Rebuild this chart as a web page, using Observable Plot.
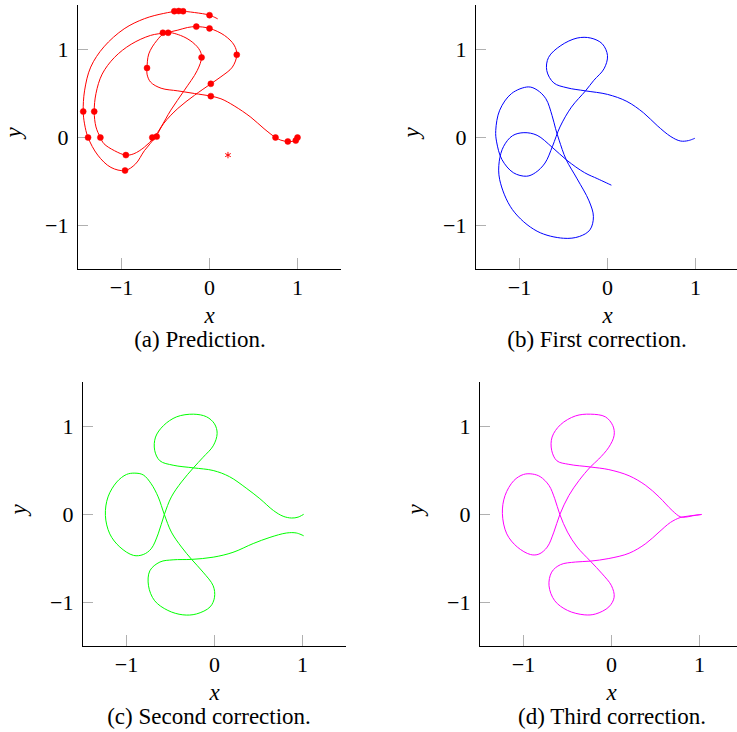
<!DOCTYPE html>
<html>
<head>
<meta charset="utf-8">
<script src="https://cdn.jsdelivr.net/npm/d3@7"></script>
<script src="https://cdn.jsdelivr.net/npm/@observablehq/plot@0.6"></script>
<style>
  html, body { margin: 0; padding: 0; background: #fff; overflow: hidden; }
  body { width: 737px; height: 732px; position: relative; }
  .panel { position: absolute; width: 360px; }
  .panel svg { max-width: none !important; }
  .cap { position: absolute; font-size: 23px; line-height: 23px; white-space: nowrap; transform: translateX(-50%); color: #000; }
</style>
</head>
<body>
<script>
// Shared axis settings
const xDomain = [-1.5, 1.5];
const yDomain = [-1.5, 1.5];
const xTicks = [-1, 0, 1];
const yTicks = [-1, 0, 1];
const xTickLabels = ["\u22121", "0", "1"];
const yTickLabels = ["\u22121", "0", "1"];

// (a) Prediction: trajectory [x, y]
const predictionPath = [
  [1.00, 0.00], [0.98, -0.035], [0.89, -0.045], [0.81, -0.03], [0.75, 0.00],
  [0.62, 0.10], [0.47, 0.23], [0.28, 0.36], [0.13, 0.44], [0.015, 0.47],
  [-0.17, 0.50], [-0.36, 0.53], [-0.55, 0.56], [-0.67, 0.63], [-0.71, 0.72],
  [-0.71, 0.79], [-0.69, 0.95], [-0.60, 1.10], [-0.50, 1.19], [-0.33, 1.16],
  [-0.19, 1.08], [-0.11, 0.99], [-0.09, 0.91], [-0.14, 0.76], [-0.29, 0.53],
  [-0.44, 0.31], [-0.55, 0.12], [-0.63, 0.00], [-0.74, -0.11], [-0.86, -0.185],
  [-0.95, -0.20], [-1.08, -0.15], [-1.20, -0.07], [-1.24, 0.00], [-1.29, 0.12],
  [-1.31, 0.295], [-1.29, 0.50], [-1.22, 0.72], [-1.08, 0.91], [-0.89, 1.06],
  [-0.67, 1.16], [-0.50, 1.19], [-0.36, 1.22], [-0.25, 1.25], [-0.15, 1.26],
  [0.00, 1.24], [0.17, 1.16], [0.28, 1.05], [0.31, 0.94], [0.26, 0.80],
  [0.13, 0.69], [0.015, 0.61], [-0.17, 0.48], [-0.36, 0.33], [-0.52, 0.16],
  [-0.61, 0.01], [-0.74, -0.15], [-0.84, -0.30], [-0.96, -0.375], [-1.12, -0.34],
  [-1.27, -0.20], [-1.38, 0.00], [-1.42, 0.155], [-1.435, 0.295], [-1.42, 0.53],
  [-1.35, 0.80], [-1.20, 1.03], [-0.97, 1.235], [-0.74, 1.35], [-0.52, 1.41],
  [-0.35, 1.435], [-0.17, 1.42], [0.00, 1.39], [0.09, 1.35]
];
// (a) solver step markers
const predictionSteps = [
  [1.00, 0.00], [0.98, -0.035], [0.89, -0.045], [0.75, 0.00], [0.015, 0.47],
  [-0.71, 0.79], [-0.53, 1.19], [-0.47, 1.19], [-0.09, 0.91], [-0.65, 0.00],
  [-0.60, 0.01], [-0.95, -0.20], [-0.96, -0.375], [-1.24, 0.00], [-1.38, 0.00],
  [-1.31, 0.295], [-1.435, 0.295], [-0.15, 1.26], [0.00, 1.24], [0.31, 0.94],
  [0.015, 0.61], [-0.40, 1.435], [-0.35, 1.437], [-0.30, 1.435], [0.00, 1.39]
];
const predictionStar = [[0.21, -0.20]];

// (b) First correction
const firstCorrection = [
  [0.99, -0.01], [0.92, -0.035], [0.83, -0.04], [0.72, 0.01], [0.565, 0.135],
  [0.41, 0.28], [0.22, 0.41], [0.00, 0.49], [-0.25, 0.53], [-0.46, 0.565],
  [-0.61, 0.62], [-0.69, 0.76], [-0.67, 0.91], [-0.53, 1.045], [-0.345, 1.13],
  [-0.19, 1.13], [-0.06, 1.065], [0.00, 0.93], [-0.04, 0.78], [-0.155, 0.65],
  [-0.25, 0.53], [-0.41, 0.345], [-0.54, 0.12], [-0.625, -0.10], [-0.71, -0.29],
  [-0.82, -0.40], [-0.92, -0.44], [-1.07, -0.40], [-1.20, -0.25], [-1.26, -0.05],
  [-1.27, 0.08], [-1.225, 0.31], [-1.09, 0.50], [-0.90, 0.575], [-0.80, 0.54],
  [-0.70, 0.44], [-0.63, 0.25], [-0.59, 0.10], [-0.55, -0.03], [-0.47, -0.25],
  [-0.345, -0.47], [-0.21, -0.72], [-0.16, -0.90], [-0.20, -1.05], [-0.32, -1.125],
  [-0.50, -1.145], [-0.80, -1.065], [-1.08, -0.82], [-1.225, -0.48], [-1.23, -0.27],
  [-1.18, -0.10], [-1.08, 0.02], [-0.95, 0.055], [-0.80, 0.025], [-0.63, -0.11],
  [-0.46, -0.26], [-0.26, -0.40], [-0.11, -0.47], [0.04, -0.54]
];

// (c) Second correction
const secondCorrection = [
  [1.01, 0.00], [0.95, -0.03], [0.875, -0.04], [0.78, -0.02], [0.67, 0.045],
  [0.515, 0.18], [0.36, 0.30], [0.17, 0.43], [-0.015, 0.50], [-0.24, 0.53],
  [-0.47, 0.56], [-0.62, 0.61], [-0.68, 0.73], [-0.67, 0.88], [-0.58, 1.01],
  [-0.43, 1.11], [-0.24, 1.14], [-0.09, 1.11], [0.00, 1.03], [0.03, 0.92],
  [-0.015, 0.78], [-0.13, 0.65], [-0.24, 0.53], [-0.375, 0.37], [-0.49, 0.20],
  [-0.57, 0.00], [-0.64, -0.22], [-0.72, -0.39], [-0.81, -0.455], [-0.92, -0.465],
  [-1.075, -0.37], [-1.19, -0.22], [-1.24, -0.01], [-1.21, 0.20], [-1.11, 0.37],
  [-1.00, 0.455], [-0.905, 0.47], [-0.81, 0.45], [-0.72, 0.35], [-0.64, 0.20],
  [-0.57, 0.00], [-0.49, -0.20], [-0.375, -0.37], [-0.26, -0.51], [-0.13, -0.655],
  [-0.015, -0.81], [0.00, -0.94], [-0.05, -1.05], [-0.205, -1.13], [-0.36, -1.14],
  [-0.53, -1.09], [-0.68, -0.98], [-0.75, -0.81], [-0.735, -0.64], [-0.62, -0.54],
  [-0.47, -0.515], [-0.26, -0.51], [-0.015, -0.485], [0.21, -0.43], [0.44, -0.33],
  [0.63, -0.26], [0.82, -0.21], [0.93, -0.21], [1.01, -0.24]
];

// (d) Third correction
const thirdCorrection = [
  [1.02, 0.00], [0.92, -0.015], [0.84, -0.03], [0.78, -0.025], [0.69, 0.045],
  [0.54, 0.20], [0.39, 0.33], [0.20, 0.44], [-0.03, 0.51], [-0.24, 0.54],
  [-0.485, 0.57], [-0.62, 0.61], [-0.68, 0.73], [-0.675, 0.88], [-0.58, 1.02],
  [-0.41, 1.12], [-0.24, 1.14], [-0.07, 1.11], [0.015, 1.01], [0.03, 0.90],
  [-0.03, 0.765], [-0.145, 0.63], [-0.24, 0.54], [-0.37, 0.385], [-0.485, 0.215],
  [-0.587, 0.00], [-0.655, -0.20], [-0.73, -0.37], [-0.825, -0.45], [-0.92, -0.455],
  [-1.07, -0.37], [-1.19, -0.22], [-1.24, 0.01], [-1.21, 0.215], [-1.11, 0.385],
  [-1.00, 0.455], [-0.90, 0.46], [-0.81, 0.43], [-0.71, 0.33], [-0.645, 0.18],
  [-0.587, 0.00], [-0.50, -0.20], [-0.39, -0.37], [-0.24, -0.53], [-0.105, -0.675],
  [0.00, -0.81], [0.03, -0.94], [-0.03, -1.05], [-0.18, -1.13], [-0.31, -1.14],
  [-0.50, -1.09], [-0.645, -0.98], [-0.71, -0.81], [-0.68, -0.655], [-0.58, -0.57],
  [-0.41, -0.54], [-0.24, -0.53], [-0.03, -0.50], [0.20, -0.44], [0.39, -0.33],
  [0.54, -0.20], [0.67, -0.09], [0.78, -0.035], [0.86, -0.02], [0.95, -0.008], [1.02, 0.00]
];

const captions = ["(a) Prediction.", "(b) First correction.", "(c) Second correction.", "(d) Third correction."];

const serif = "'Liberation Serif', 'Tinos', 'Times New Roman', serif";

function panelMarks(path, color) {
  return [
    // inward gray ticks
    Plot.tickX(xTicks, {x: d => d, stroke: "#b0b0b0", strokeWidth: 1, insetTop: 253}),
    Plot.tickY(yTicks, {y: d => d, stroke: "#b0b0b0", strokeWidth: 1, insetRight: 253}),
    // left and bottom axis lines
    Plot.ruleX([xDomain[0]], {stroke: "#000", strokeWidth: 1}),
    Plot.ruleY([yDomain[0]], {stroke: "#000", strokeWidth: 1}),
    Plot.axisX(xTicks, {tickSize: 0, tickPadding: 10, fontFamily: serif, fontSize: 22,
      tickFormat: d => xTickLabels[xTicks.indexOf(d)], label: null}),
    Plot.axisY(yTicks, {tickSize: 0, tickPadding: 9, fontFamily: serif, fontSize: 22,
      tickFormat: d => yTickLabels[yTicks.indexOf(d)], label: null}),
    Plot.text(["x"], {text: d => d, frameAnchor: "bottom", dy: 46, fontFamily: serif, fontSize: 23,
      fontStyle: "italic", lineAnchor: "middle"}),
    Plot.text(["y"], {text: d => d, frameAnchor: "left", dx: -64, rotate: -90, fontFamily: serif, fontSize: 23,
      fontStyle: "italic", lineAnchor: "middle"}),
    Plot.line(path, {x: d => d[0], y: d => d[1], stroke: color, strokeWidth: 1, curve: "catmull-rom"})
  ];
}

function makePanel(extraMarks, path, color) {
  const svg = Plot.plot({
    width: 360,
    height: 329,
    marginTop: 5,
    marginLeft: 77,
    marginRight: 19,
    marginBottom: 60,
    x: {domain: xDomain},
    y: {domain: yDomain},
    style: {fontSize: "22px", background: "transparent", overflow: "visible", color: "#000", maxWidth: "none"},
    marks: [...panelMarks(path, color), ...extraMarks]
  });
  svg.style.fontFamily = serif;
  return svg;
}

const panels = [
  {left: 0, top: 0, color: "#ff0000", path: predictionPath,
   extra: [
     Plot.dot(predictionSteps, {x: d => d[0], y: d => d[1], r: 3, fill: "#ff0000", stroke: "#ff0000", strokeWidth: 0.5}),
     Plot.dot(predictionStar, {x: d => d[0], y: d => d[1], r: 3, symbol: "asterisk", stroke: "#ff0000", strokeWidth: 1})
   ], capX: 200, capBase: 347},
  {left: 398, top: 0, color: "#0000ff", path: firstCorrection, extra: [], capX: 597, capBase: 347},
  {left: 5, top: 377, color: "#00ff00", path: secondCorrection, extra: [], capX: 209, capBase: 724},
  {left: 402, top: 377, color: "#ff00ff", path: thirdCorrection, extra: [], capX: 612, capBase: 724}
];

panels.forEach((p, i) => {
  const div = document.createElement("div");
  div.className = "panel";
  div.style.left = p.left + "px";
  div.style.top = p.top + "px";
  div.appendChild(makePanel(p.extra, p.path, p.color));
  document.body.appendChild(div);

  const cap = document.createElement("div");
  cap.className = "cap";
  cap.style.fontFamily = serif;
  cap.textContent = captions[i];
  cap.style.left = p.capX + "px";
  cap.style.top = (p.capBase - 19) + "px";
  document.body.appendChild(cap);
});
</script>
</body>
</html>
